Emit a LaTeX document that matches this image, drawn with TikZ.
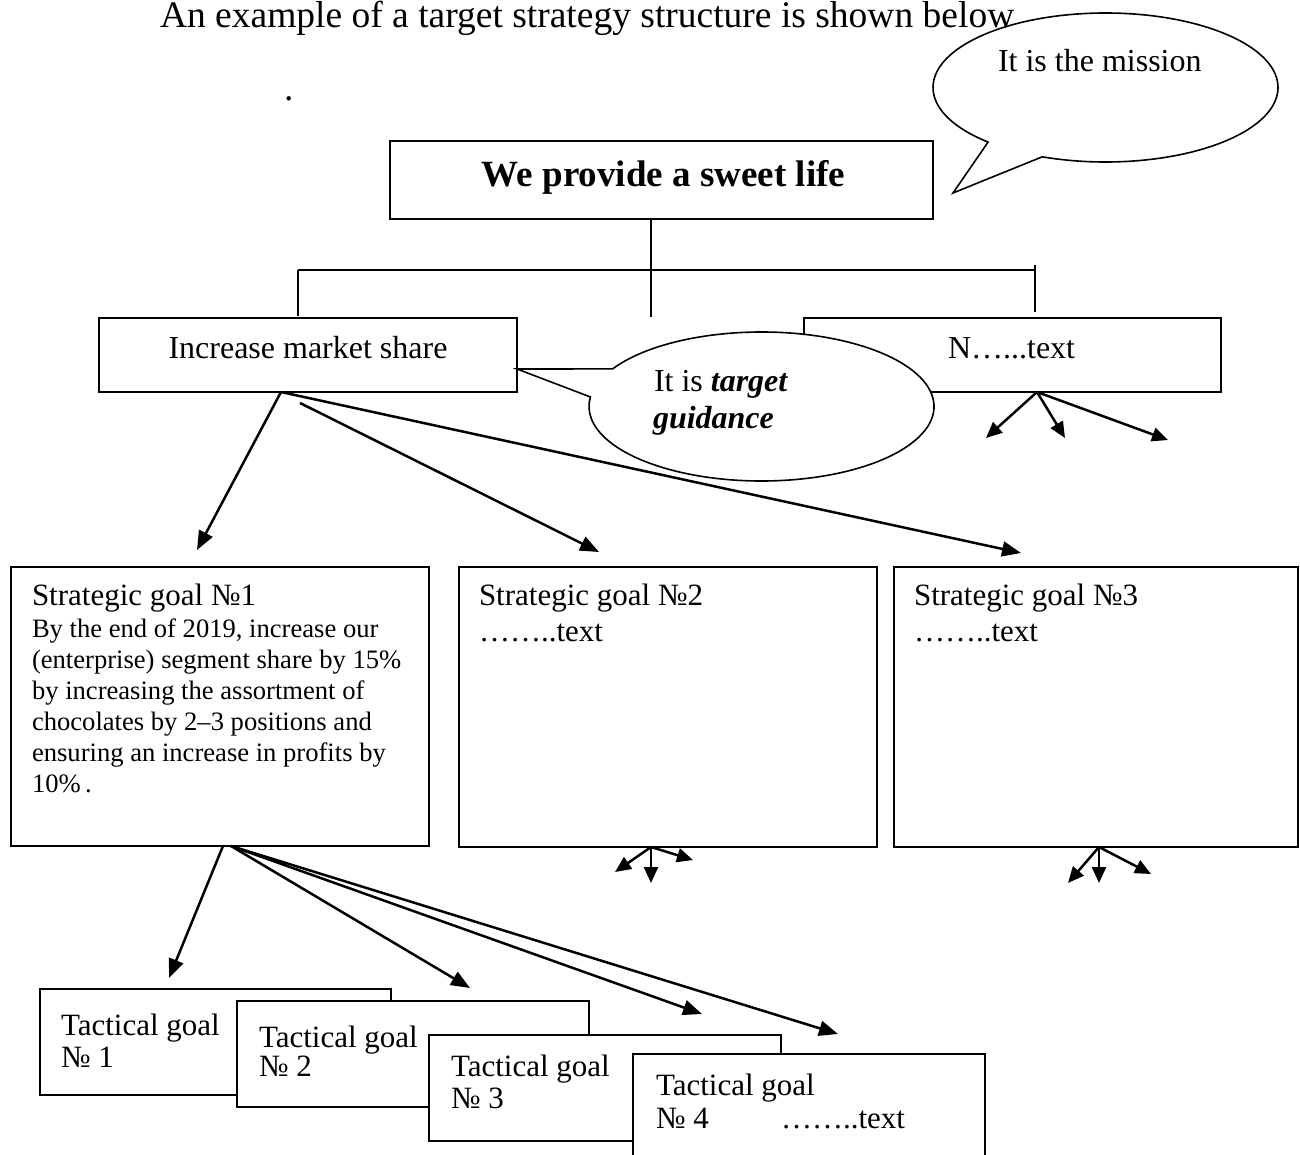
\documentclass[tikz,border=0pt]{standalone}
\usepackage{fontspec}
\setmainfont{Liberation Serif}
\usetikzlibrary{arrows.meta,calc}
\newcommand\myTitle{\fontsize{37.5}{44}\selectfont}
\newcommand\myBold{\fontsize{37}{44}\selectfont\bfseries}
\newcommand\myMid{\fontsize{32}{38}\selectfont}
\newcommand\myHead{\fontsize{31}{37}\selectfont}
\newcommand\myBody{\fontsize{26.6}{31}\selectfont}
\begin{document}
\begin{tikzpicture}[x=1pt,y=-1pt,
  box/.style={draw, rectangle, line width=1.6pt, fill=white, inner sep=0pt, outer sep=0pt, anchor=north west},
  txt/.style={anchor=base west, inner sep=0pt, outer sep=0pt},
  ctxt/.style={anchor=base, inner sep=0pt, outer sep=0pt},
  tree/.style={line width=1.4pt},
  arr/.style={line width=2.5pt, -{Triangle[length=19pt,width=15pt]}},
  sarr/.style={line width=2.5pt, -{Triangle[length=16pt,width=14pt]}},
  callout/.style={draw, line width=1.6pt, fill=white, line join=miter}]
\useasboundingbox (0,0) rectangle (1300,1155);
\clip (0,0) rectangle (1300,1155);

% ---- boxes ----
\node[box, minimum width=543pt, minimum height=78pt] (mission) at (390,141) {};
\node[box, minimum width=418pt, minimum height=74pt] (inc) at (99,318) {};
\node[box, minimum width=417pt, minimum height=74pt] (nbox) at (804,318) {};
\node[box, minimum width=418pt, minimum height=279pt] (sg1) at (11,567) {};
\node[box, minimum width=418pt, minimum height=280pt] (sg2) at (459,567) {};
\node[box, minimum width=404pt, minimum height=280pt] (sg3) at (894,567) {};

% ---- tree connectors ----
\coordinate (hubTop) at ($(mission.south west)+(261,0)$);
\coordinate (hubBot) at (651,317);
\coordinate (barL) at (298,270);
\coordinate (barR) at (1035,270);
\coordinate (dropL) at ($(inc.north west)+(199,-2)$);
\coordinate (dropRtop) at (1035,265);
\coordinate (dropR) at ($(nbox.north west)+(231,-6)$);
\draw[tree] (hubTop) -- (hubBot);
\draw[tree] (barL) -- (barR);
\draw[tree] (barL) -- (dropL);
\draw[tree] (dropRtop) -- (dropR);

% ---- arrows from Increase market share ----
\coordinate (incS) at ($(inc.south west)+(182,0)$);
\coordinate (incS2) at (300,403);
\coordinate (g1tip) at (197,550);
\coordinate (g2tip) at (599,552);
\coordinate (g3tip) at (1021,553);
\draw[arr] (incS) -- (g1tip);
\draw[arr] (incS2) -- (g2tip);
\draw[arr] (incS) -- (g3tip);

% ---- arrows from N box ----
\coordinate (nS) at ($(nbox.south west)+(233,0)$);
\coordinate (n1) at (986,438);
\coordinate (n2) at (1065,438);
\coordinate (n3) at (1168,440);
\draw[sarr] (nS) -- (n1);
\draw[sarr] (nS) -- (n2);
\draw[sarr] (nS) -- (n3);

% ---- arrows from strategic goal 2 and 3 ----
\coordinate (s2S) at ($(sg2.south west)+(192,0)$);
\coordinate (s2a) at (615,872);
\coordinate (s2b) at (651,883);
\coordinate (s2c) at (693,860);
\draw[sarr] (s2S) -- (s2a);
\draw[sarr] (s2S) -- (s2b);
\draw[sarr] (s2S) -- (s2c);
\coordinate (s3S) at ($(sg3.south west)+(205,0)$);
\coordinate (s3a) at (1068,883);
\coordinate (s3b) at (1099,883);
\coordinate (s3c) at (1151,874);
\draw[sarr] (s3S) -- (s3a);
\draw[sarr] (s3S) -- (s3b);
\draw[sarr] (s3S) -- (s3c);

% ---- arrows from strategic goal 1 ----
\coordinate (s1S) at ($(sg1.south west)+(212,0)$);
\coordinate (s1S2) at ($(sg1.south west)+(220,0)$);
\coordinate (t1tip) at (169,978);
\coordinate (t2tip) at (470,988);
\coordinate (t3tip) at (702,1014);
\coordinate (t4tip) at (838,1034);
\draw[arr] (s1S) -- (t1tip);
\draw[arr] (s1S2) -- (t2tip);
\draw[arr] (s1S2) -- (t3tip);
\draw[arr] (s1S2) -- (t4tip);

% ---- tactical boxes ----
\node[box, minimum width=351pt, minimum height=106pt] (tg1) at (40,989) {};
\node[box, minimum width=352pt, minimum height=106pt] (tg2) at (237,1001) {};
\node[box, minimum width=352pt, minimum height=106pt] (tg3) at (429,1035) {};
\node[box, minimum width=352pt, minimum height=130pt] (tg4) at (633,1054) {};

% ---- callouts ----
\coordinate (c1) at (1105.5,87.5);
\coordinate (c1tip) at (953,193);
\draw[callout] (c1) ++(132.9:172.5 and 74.5)
  arc[start angle=132.9, end angle=471.5, x radius=172.5, y radius=74.5] -- (c1tip) -- cycle;
\coordinate (c2) at (761.5,406.5);
\coordinate (c2tip) at ($(inc.south east)+(0,-23)$);
\draw[callout] (c2) ++(210.3:172.5 and 74.5)
  arc[start angle=210.3, end angle=547.35, x radius=172.5, y radius=74.5] -- (c2tip) -- cycle;

% ---- texts ----
\node[ctxt, font=\myBold] (missiontext) at (663.5,187) {We provide a sweet life};
\node[txt, font=\myMid] (calloutA) at (998,72) {It is the mission};
\node[txt, font=\myMid] (calloutB1) at (654,391) {It is \textbf{\textit{target}}};
\node[txt, font=\myMid] (calloutB2) at (653,428) {\textbf{\textit{guidance}}};
\node[ctxt, font=\myMid] (inctext) at (308,358) {Increase market share};
\node[txt, font=\myMid] (ntext) at (948,358) {N…...text};

\node[txt, font=\myHead] (sg1h) at (32,605) {Strategic goal №1};
\node[txt, font=\myBody] (sg1l1) at (32,637) {By the end of 2019, increase our};
\node[txt, font=\myBody] (sg1l2) at (32,668) {(enterprise) segment share by 15\%};
\node[txt, font=\myBody] (sg1l3) at (32,699) {by increasing the assortment of};
\node[txt, font=\myBody] (sg1l4) at (32,730) {chocolates by 2–3 positions and};
\node[txt, font=\myBody] (sg1l5) at (32,761) {ensuring an increase in profits by};
\node[txt, font=\myBody] (sg1l6) at (32,792) {10\%\,.};

\node[txt, font=\myHead] (sg2h) at (479,605) {Strategic goal №2};
\node[txt, font=\myHead] (sg2t) at (479,641) {……..text};
\node[txt, font=\myHead] (sg3h) at (914,605) {Strategic goal №3};
\node[txt, font=\myHead] (sg3t) at (914,641) {……..text};

\node[txt, font=\myHead] (tg1a) at (61,1035) {Tactical goal};
\node[txt, font=\myHead] (tg1b) at (61,1067) {№ 1};
\node[txt, font=\myHead] (tg2a) at (259,1047) {Tactical goal};
\node[txt, font=\myHead] (tg2b) at (259,1076) {№ 2};
\node[txt, font=\myHead] (tg3a) at (451,1076) {Tactical goal};
\node[txt, font=\myHead] (tg3b) at (451,1108) {№ 3};
\node[txt, font=\myHead] (tg4a) at (656,1095) {Tactical goal};
\node[txt, font=\myHead] (tg4b) at (656,1128) {№ 4};
\node[txt, font=\myHead] (tg4c) at (781,1128) {……..text};

\node[txt, font=\myTitle] (title) at (160,28) {An example of a target strategy structure is shown below};
\node[txt, font=\myTitle] (dot) at (284,101) {.};
\end{tikzpicture}
\end{document}
